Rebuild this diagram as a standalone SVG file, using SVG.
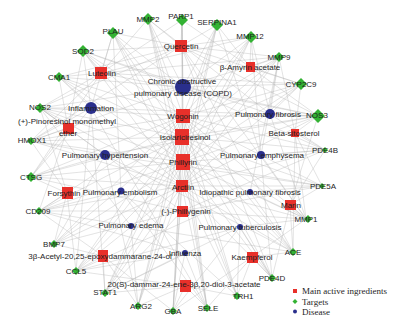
<svg xmlns="http://www.w3.org/2000/svg" width="403" height="321" viewBox="0 0 403 321">
<style>
.e{stroke:#b4b4b4;stroke-width:0.5;stroke-opacity:0.75;fill:none}
.r{fill:#e8302a}
.g{fill:#33b233}
.b{fill:#2a2f8c}
text{font-family:"Liberation Sans",Arial,sans-serif;font-size:8px;fill:#1e1e1e;text-anchor:middle}
.lg{font-family:"Liberation Serif","Times New Roman",serif;font-size:9px;text-anchor:start}
</style>
<rect width="403" height="321" fill="#ffffff"/>
<g id="connectors">
<path class="e" d="M183 116L148 19M183 116L182 20M183 116L217 25M183 116L251 37M183 116L279 57M183 116L301 84M183 116L318 116M183 116L325 150M183 116L322 186M183 116L306 219M183 116L293 252M183 116L272 278M183 116L237 296M183 116L207 308M183 116L173 311M183 116L138 306M183 116L105 293M183 116L76 271M183 116L54 244M183 116L39 211M183 116L31 177M183 116L31 141M183 116L40 108M183 116L59 77M183 116L83 51M183 116L113 33"/>
<path class="e" d="M182 137L148 19M182 137L182 20M182 137L217 25M182 137L251 37M182 137L279 57M182 137L301 84M182 137L318 116M182 137L325 150M182 137L322 186M182 137L306 219M182 137L293 252M182 137L272 278M182 137L237 296M182 137L207 308M182 137L173 311M182 137L138 306M182 137L105 293M182 137L76 271M182 137L54 244M182 137L39 211M182 137L31 177M182 137L31 141M182 137L40 108M182 137L59 77M182 137L83 51M182 137L113 33"/>
<path class="e" d="M183 162L148 19M183 162L182 20M183 162L217 25M183 162L251 37M183 162L279 57M183 162L301 84M183 162L318 116M183 162L325 150M183 162L322 186M183 162L306 219M183 162L293 252M183 162L272 278M183 162L237 296M183 162L207 308M183 162L173 311M183 162L138 306M183 162L105 293M183 162L76 271M183 162L54 244M183 162L39 211M183 162L31 177M183 162L31 141M183 162L40 108M183 162L59 77M183 162L83 51M183 162L113 33"/>
<path class="e" d="M182 186L148 19M182 186L217 25M182 186L251 37M182 186L279 57M182 186L301 84M182 186L318 116M182 186L325 150M182 186L322 186M182 186L306 219M182 186L293 252M182 186L272 278M182 186L237 296M182 186L207 308M182 186L173 311M182 186L138 306M182 186L105 293M182 186L76 271M182 186L54 244M182 186L39 211M182 186L31 177M182 186L31 141M182 186L40 108M182 186L59 77M182 186L83 51M182 186L113 33"/>
<path class="e" d="M181 46L148 19M181 46L182 20M181 46L217 25M181 46L251 37M181 46L279 57M181 46L301 84M181 46L318 116M181 46L113 33M181 46L83 51M181 46L59 77M181 46L40 108M181 46L31 141M181 46L306 219M181 46L293 252M181 46L272 278"/>
<path class="e" d="M101 73L113 33M101 73L83 51M101 73L59 77M101 73L40 108M101 73L31 141M101 73L31 177M101 73L148 19M101 73L182 20M101 73L279 57M101 73L251 37M101 73L318 116M101 73L301 84"/>
<path class="e" d="M250 67L251 37M250 67L279 57M250 67L217 25M250 67L301 84M250 67L318 116M250 67L182 20"/>
<path class="e" d="M182 211L325 150M182 211L322 186M182 211L306 219M182 211L39 211M182 211L31 177M182 211L54 244M182 211L105 293M182 211L40 108"/>
<path class="e" d="M295 133L318 116M295 133L301 84M295 133L279 57M295 133L325 150M295 133L322 186M295 133L306 219M295 133L293 252"/>
<path class="e" d="M290 205L322 186M290 205L306 219M290 205L293 252M290 205L272 278M290 205L318 116M290 205L325 150"/>
<path class="e" d="M68 128L40 108M68 128L31 141M68 128L31 177M68 128L59 77M68 128L83 51M68 128L39 211"/>
<path class="e" d="M67 193L31 177M67 193L39 211M67 193L54 244M67 193L31 141M67 193L40 108M67 193L76 271"/>
<path class="e" d="M103 256L54 244M103 256L76 271M103 256L105 293M103 256L138 306M103 256L173 311M103 256L39 211"/>
<path class="e" d="M252 257L272 278M252 257L237 296M252 257L207 308M252 257L293 252M252 257L306 219M252 257L173 311"/>
<path class="e" d="M185 286L138 306M185 286L173 311M185 286L207 308M185 286L237 296M185 286L105 293M185 286L76 271"/>
<path class="e" d="M183 87L148 19M183 87L182 20M183 87L217 25M183 87L251 37M183 87L279 57M183 87L318 116M183 87L113 33M183 87L83 51M183 87L59 77M183 87L40 108M183 87L31 141M183 87L301 84M183 87L325 150"/>
<path class="e" d="M91 108L40 108M91 108L31 141M91 108L59 77M91 108L83 51M91 108L113 33M91 108L31 177M91 108L76 271M91 108L105 293M91 108L207 308M91 108L318 116"/>
<path class="e" d="M270 114L279 57M270 114L251 37M270 114L301 84M270 114L318 116M270 114L148 19M270 114L325 150M270 114L306 219M270 114L83 51"/>
<path class="e" d="M105 155L318 116M105 155L322 186M105 155L40 108M105 155L31 141M105 155L293 252M105 155L54 244M105 155L138 306M105 155L31 177"/>
<path class="e" d="M261 155L251 37M261 155L279 57M261 155L217 25M261 155L306 219M261 155L325 150M261 155L272 278"/>
<path class="e" d="M121 191L207 308M121 191L113 33M121 191L39 211M121 191L237 296"/>
<path class="e" d="M250 192L306 219M250 192L322 186M250 192L279 57M250 192L293 252M250 192L76 271"/>
<path class="e" d="M131 226L293 252M131 226L39 211M131 226L40 108M131 226L138 306"/>
<path class="e" d="M240 227L76 271M240 227L105 293M240 227L173 311M240 227L272 278M240 227L237 296M240 227L306 219"/>
<path class="e" d="M185 253L105 293M185 253L76 271M185 253L39 211M185 253L173 311M185 253L207 308"/>
</g>
<g id="MMP2"><path class="g" d="M148 13L154 19L148 25L142 19Z"/><text x="148" y="22">MMP2</text></g>
<g id="PARP1"><path class="g" d="M182 14L188 20L182 26L176 20Z"/><text x="181" y="19">PARP1</text></g>
<g id="SERPINA1"><path class="g" d="M217 19L223 25L217 31L211 25Z"/><text x="217" y="25">SERPINA1</text></g>
<g id="MMP12"><path class="g" d="M251 31L257 37L251 43L245 37Z"/><text x="250" y="39">MMP12</text></g>
<g id="MMP9"><path class="g" d="M279 52L284 57L279 62L274 57Z"/><text x="279" y="60">MMP9</text></g>
<g id="CYP2C9"><path class="g" d="M301 78L307 84L301 90L295 84Z"/><text x="301" y="87">CYP2C9</text></g>
<g id="NOS3"><path class="g" d="M318 109L325 116L318 123L311 116Z"/><text x="317" y="118">NOS3</text></g>
<g id="PDE4B"><path class="g" d="M325 147L328 150L325 153L322 150Z"/><text x="325" y="153">PDE4B</text></g>
<g id="PDE5A"><path class="g" d="M322 183L325 186L322 189L319 186Z"/><text x="323" y="189">PDE5A</text></g>
<g id="MMP1"><path class="g" d="M308 215L312 219L308 223L304 219Z"/><text x="306" y="222">MMP1</text></g>
<g id="ACE"><path class="g" d="M293 248L297 252L293 256L289 252Z"/><text x="293" y="255">ACE</text></g>
<g id="PDE4D"><path class="g" d="M272 274L276 278L272 282L268 278Z"/><text x="272" y="281">PDE4D</text></g>
<g id="TRH1"><path class="g" d="M237 292L241 296L237 300L233 296Z"/><text x="243" y="299">TRH1</text></g>
<g id="SELE"><path class="g" d="M207 304L211 308L207 312L203 308Z"/><text x="208" y="311">SELE</text></g>
<g id="GBA"><path class="g" d="M173 307L177 311L173 315L169 311Z"/><text x="173" y="314">GBA</text></g>
<g id="ARG2"><path class="g" d="M138 302L142 306L138 310L134 306Z"/><text x="141" y="309">ARG2</text></g>
<g id="STAT1"><path class="g" d="M105 289L109 293L105 297L101 293Z"/><text x="105" y="295">STAT1</text></g>
<g id="CCL5"><path class="g" d="M76 267L80 271L76 275L72 271Z"/><text x="76" y="274">CCL5</text></g>
<g id="BMP7"><path class="g" d="M54 240L58 244L54 248L50 244Z"/><text x="54" y="247">BMP7</text></g>
<g id="CD209"><path class="g" d="M39 207L43 211L39 215L35 211Z"/><text x="38" y="214">CD209</text></g>
<g id="CTSG"><path class="g" d="M31 172L36 177L31 182L26 177Z"/><text x="31" y="180">CTSG</text></g>
<g id="HMOX1"><path class="g" d="M31 137L35 141L31 145L27 141Z"/><text x="32" y="143">HMOX1</text></g>
<g id="NOS2"><path class="g" d="M40 103L45 108L40 113L35 108Z"/><text x="40" y="110">NOS2</text></g>
<g id="CMA1"><path class="g" d="M59 72L64 77L59 82L54 77Z"/><text x="59" y="80">CMA1</text></g>
<g id="SOD2"><path class="g" d="M83 45L89 51L83 57L77 51Z"/><text x="83" y="54">SOD2</text></g>
<g id="PLAU"><path class="g" d="M113 27L119 33L113 39L107 33Z"/><text x="113" y="34">PLAU</text></g>
<g id="Quercetin"><rect class="r" x="175" y="40" width="12" height="12"/><text x="181" y="49">Quercetin</text></g>
<g id="Luteolin"><rect class="r" x="95" y="67" width="12" height="12"/><text x="102" y="76">Luteolin</text></g>
<g id="BetaAmyrinAcetate"><rect class="r" x="246" y="62" width="9" height="10"/><text x="250" y="70">β-Amyrin acetate</text></g>
<g id="COPD"><circle class="b" cx="183" cy="87" r="8"/><text x="182" y="84">Chronic obstructive</text><text x="183" y="96">pulmonary disease (COPD)</text></g>
<g id="Wogonin"><rect class="r" x="176" y="109" width="14" height="14"/><text x="183" y="119">Wogonin</text></g>
<g id="Isolariciresinol"><rect class="r" x="175" y="129" width="14" height="16"/><text x="185" y="140">Isolariciresinol</text></g>
<g id="Phillyrin"><rect class="r" x="176" y="154" width="14" height="16"/><text x="183" y="165">Phillyrin</text></g>
<g id="Arctiin"><rect class="r" x="176" y="180" width="12" height="12"/><text x="183" y="190">Arctiin</text></g>
<g id="Phillygenin"><rect class="r" x="177" y="206" width="11" height="11"/><text x="186" y="214">(-)-Phillygenin</text></g>
<g id="BetaSitosterol"><rect class="r" x="291" y="129" width="8" height="8"/><text x="294" y="136">Beta-sitosterol</text></g>
<g id="Marin"><rect class="r" x="285" y="200" width="11" height="10"/><text x="291" y="208">Marin</text></g>
<g id="Pinoresinol"><rect class="r" x="63" y="123" width="11" height="11"/><text x="67" y="124">(+)-Pinoresinol monomethyl</text><text x="68" y="136">ether</text></g>
<g id="Forsythin"><rect class="r" x="62" y="187" width="11" height="12"/><text x="64" y="196">Forsythin</text></g>
<g id="AcetylEpoxydammarane"><rect class="r" x="98" y="250" width="10" height="12"/><text x="100" y="259">3β-Acetyl-20,25-epoxydammarane-24-ol</text></g>
<g id="Kaempferol"><rect class="r" x="247" y="252" width="11" height="11"/><text x="252" y="260">Kaempferol</text></g>
<g id="Dammarenediol"><rect class="r" x="180" y="280" width="11" height="12"/><text x="184" y="287">20(S)-dammar-24-ene-3β,20-diol-3-acetate</text></g>
<g id="Inflammation"><circle class="b" cx="91" cy="108" r="6"/><text x="91" y="111">Inflammation</text></g>
<g id="PulmonaryFibrosis"><circle class="b" cx="270" cy="114" r="5"/><text x="268" y="117">Pulmonary fibrosis</text></g>
<g id="PulmonaryHypertension"><circle class="b" cx="105" cy="155" r="5"/><text x="105" y="158">Pulmonary hypertension</text></g>
<g id="PulmonaryEmphysema"><circle class="b" cx="261" cy="155" r="4"/><text x="262" y="158">Pulmonary emphysema</text></g>
<g id="PulmonaryEmbolism"><circle class="b" cx="121" cy="191" r="3.5"/><text x="120" y="195">Pulmonary embolism</text></g>
<g id="IPF"><circle class="b" cx="250" cy="192" r="3"/><text x="250" y="195">Idiopathic pulmonary fibrosis</text></g>
<g id="PulmonaryEdema"><circle class="b" cx="131" cy="226" r="3"/><text x="131" y="228">Pulmonary edema</text></g>
<g id="PulmonaryTuberculosis"><circle class="b" cx="240" cy="227" r="3"/><text x="240" y="230">Pulmonary tuberculosis</text></g>
<g id="Influenza"><circle class="b" cx="185" cy="253" r="3"/><text x="185" y="256">Influenza</text></g>
<g id="legend">
<rect class="r" x="293" y="289" width="4" height="4"/><text class="lg" x="302" y="294">Main active ingredients</text>
<path class="g" d="M295 299L297.5 301.5L295 304L292.5 301.5Z"/><text class="lg" x="302" y="304.5">Targets</text>
<circle class="b" cx="295" cy="311.5" r="2"/><text class="lg" x="302" y="314.5">Disease</text>
</g>
</svg>
